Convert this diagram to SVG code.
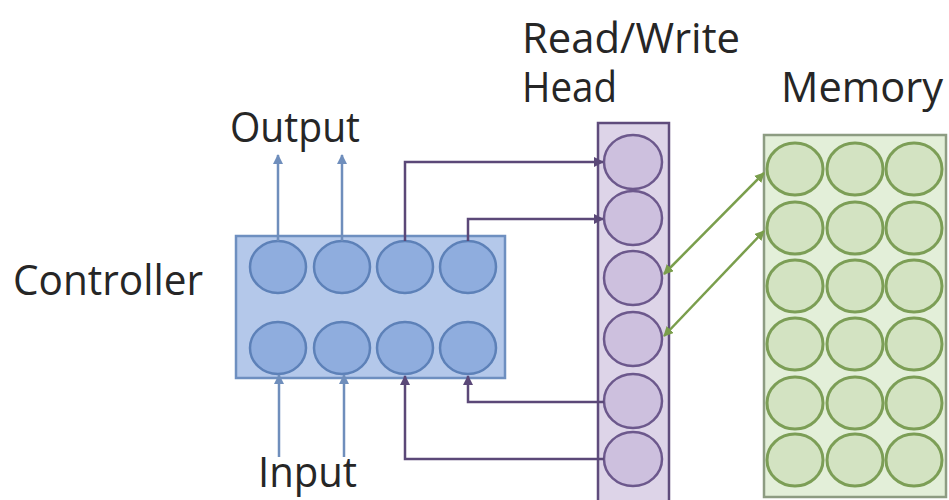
<svg xmlns="http://www.w3.org/2000/svg" width="949" height="500" viewBox="0 0 949 500">
<defs>
<style>
.lbl{font-family:"Open Sans","Noto Sans","Liberation Sans",sans-serif;font-size:42px;fill:#262626}
.cbox{fill:#b4c8ea;stroke:#6e8fc0;stroke-width:2.5}
.cc{fill:#8fadde;stroke:#5d81b8;stroke-width:2.5}
.hbox{fill:#ddd4e8;stroke:#5f4c7c;stroke-width:2.5}
.hc{fill:#cdc0de;stroke:#6c588c;stroke-width:2.5}
.mbox{fill:#e3efd9;stroke:#8d9c82;stroke-width:2.5}
.mc{fill:#d3e3c2;stroke:#7c9e56;stroke-width:3}
.ab{fill:none;stroke:#6f8ebc;stroke-width:2.5}
.ap{fill:none;stroke:#5b4878;stroke-width:2.5}
.ag{fill:none;stroke:#7a9e4c;stroke-width:2.5}
</style>
<marker id="mb" viewBox="0 0 10 10" refX="9" refY="5" markerWidth="4" markerHeight="4" orient="auto"><path d="M0,0L10,5L0,10z" fill="#6f8ebc"/></marker>
<marker id="mp" viewBox="0 0 10 10" refX="9" refY="5" markerWidth="4" markerHeight="4" orient="auto"><path d="M0,0L10,5L0,10z" fill="#5b4878"/></marker>
<marker id="mg" viewBox="0 0 10 10" refX="9" refY="5" markerWidth="4" markerHeight="4" orient="auto-start-reverse"><path d="M0,0L10,5L0,10z" fill="#7a9e4c"/></marker>
</defs>
<rect width="949" height="500" fill="#ffffff"/>

<g id="controller">
<rect class="cbox" x="236" y="236" width="269" height="142"/>
<ellipse class="cc" cx="278" cy="267" rx="28" ry="26"/>
<ellipse class="cc" cx="342" cy="267" rx="28" ry="26"/>
<ellipse class="cc" cx="405" cy="267" rx="28" ry="26"/>
<ellipse class="cc" cx="468" cy="267" rx="28" ry="26"/>
<ellipse class="cc" cx="278" cy="348" rx="28" ry="26"/>
<ellipse class="cc" cx="342" cy="348" rx="28" ry="26"/>
<ellipse class="cc" cx="405" cy="348" rx="28" ry="26"/>
<ellipse class="cc" cx="468" cy="348" rx="28" ry="26"/>
<text class="lbl" x="13" y="295" textLength="190" lengthAdjust="spacingAndGlyphs">Controller</text>
</g>

<g id="head">
<rect class="hbox" x="598" y="123" width="71" height="390"/>
<ellipse class="hc" cx="633" cy="162" rx="29" ry="27"/>
<ellipse class="hc" cx="633" cy="218" rx="29" ry="27"/>
<ellipse class="hc" cx="633" cy="278" rx="29" ry="27"/>
<ellipse class="hc" cx="633" cy="339" rx="29" ry="27"/>
<ellipse class="hc" cx="633" cy="401" rx="29" ry="27"/>
<ellipse class="hc" cx="633" cy="459" rx="29" ry="27"/>
<text class="lbl" x="522" y="53" textLength="218" lengthAdjust="spacingAndGlyphs">Read/Write</text>
<text class="lbl" x="522" y="102" textLength="95" lengthAdjust="spacingAndGlyphs">Head</text>
</g>

<g id="memory">
<rect class="mbox" x="764" y="135" width="182" height="362"/>
<g>
<ellipse class="mc" cx="795" cy="169" rx="28" ry="26"/><ellipse class="mc" cx="855" cy="169" rx="28" ry="26"/><ellipse class="mc" cx="914" cy="169" rx="28" ry="26"/>
<ellipse class="mc" cx="795" cy="228" rx="28" ry="26"/><ellipse class="mc" cx="855" cy="228" rx="28" ry="26"/><ellipse class="mc" cx="914" cy="228" rx="28" ry="26"/>
<ellipse class="mc" cx="795" cy="286" rx="28" ry="26"/><ellipse class="mc" cx="855" cy="286" rx="28" ry="26"/><ellipse class="mc" cx="914" cy="286" rx="28" ry="26"/>
<ellipse class="mc" cx="795" cy="344" rx="28" ry="26"/><ellipse class="mc" cx="855" cy="344" rx="28" ry="26"/><ellipse class="mc" cx="914" cy="344" rx="28" ry="26"/>
<ellipse class="mc" cx="795" cy="403" rx="28" ry="26"/><ellipse class="mc" cx="855" cy="403" rx="28" ry="26"/><ellipse class="mc" cx="914" cy="403" rx="28" ry="26"/>
<ellipse class="mc" cx="795" cy="460" rx="28" ry="26"/><ellipse class="mc" cx="855" cy="460" rx="28" ry="26"/><ellipse class="mc" cx="914" cy="460" rx="28" ry="26"/>
</g>
<text class="lbl" x="781" y="102" textLength="162" lengthAdjust="spacingAndGlyphs">Memory</text>
</g>

<g id="output-label"><text class="lbl" x="230" y="142" textLength="130" lengthAdjust="spacingAndGlyphs">Output</text></g>
<g id="input-label"><text class="lbl" x="258" y="487" textLength="99" lengthAdjust="spacingAndGlyphs">Input</text></g>

<g id="connectors">
<path class="ab" d="M278,241V155" marker-end="url(#mb)"/>
<path class="ab" d="M342,241V155" marker-end="url(#mb)"/>
<path class="ab" d="M279,457V375" marker-end="url(#mb)"/>
<path class="ab" d="M344,457V375" marker-end="url(#mb)"/>
<path class="ap" d="M405,241V162H603" marker-end="url(#mp)"/>
<path class="ap" d="M468,241V219H603" marker-end="url(#mp)"/>
<path class="ap" d="M604,402H468V376" marker-end="url(#mp)"/>
<path class="ap" d="M604,459H405V376" marker-end="url(#mp)"/>
<path class="ag" d="M664,274L764,173" marker-start="url(#mg)" marker-end="url(#mg)"/>
<path class="ag" d="M664,336L764,231" marker-start="url(#mg)" marker-end="url(#mg)"/>
</g>
</svg>
